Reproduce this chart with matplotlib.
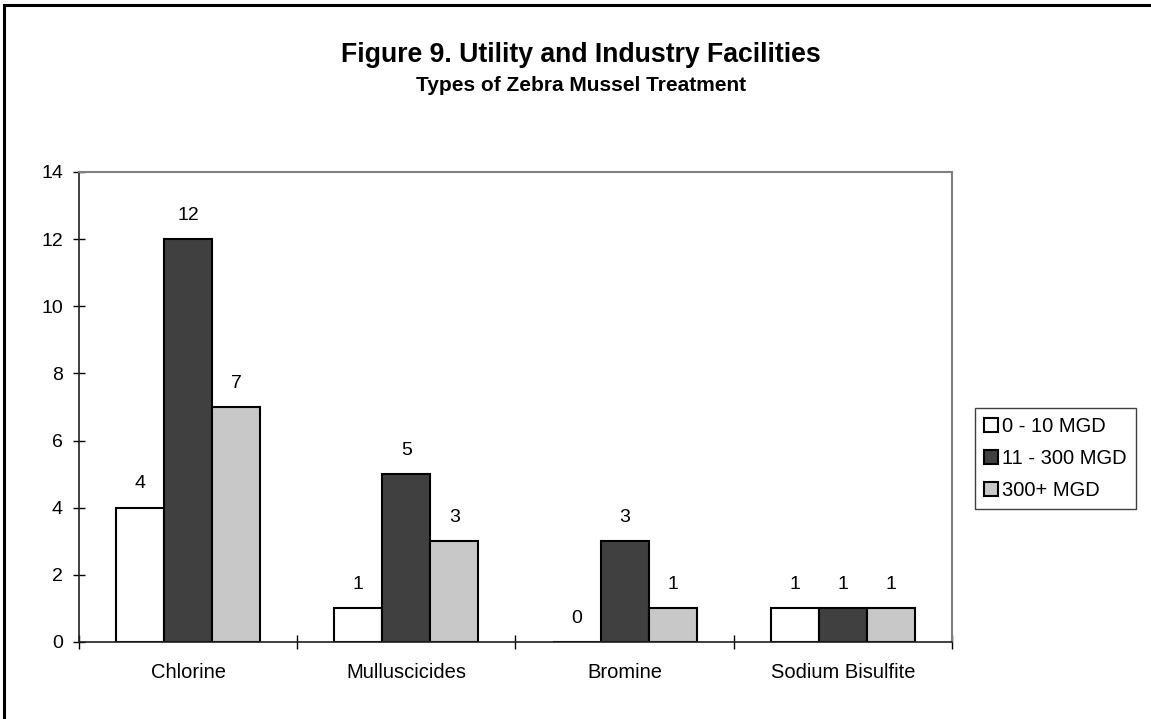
import numpy as np
import matplotlib
matplotlib.use('Agg')
import matplotlib.pyplot as plt
from matplotlib.patches import Patch, Rectangle

plt.rcParams['font.family'] = ['Liberation Sans', 'DejaVu Sans']

categories = ['Chlorine', 'Mulluscicides', 'Bromine', 'Sodium Bisulfite']
series_names = ['0 - 10 MGD', '11 - 300 MGD', '300+ MGD']
small = [4, 1, 0, 1]
medium = [12, 5, 3, 1]
large = [7, 3, 1, 1]
colors = ['white', '#404040', '#c8c8c8']

fig = plt.figure(figsize=(11.51, 7.19), dpi=100)
ax = fig.add_axes([0.0686, 0.1071, 0.827 - 0.0686, 0.7608 - 0.1071])

x = np.arange(len(categories))
w = 0.22
for i, (vals, c) in enumerate(zip([small, medium, large], colors)):
    bars = ax.bar(x + (i - 1) * w, vals, w, color=c, edgecolor='black', linewidth=1.5)
    for b, v in zip(bars, vals):
        ax.annotate(str(v), (b.get_x() + b.get_width() / 2, v), xytext=(0, 11),
                    textcoords='offset points', ha='center', va='bottom', fontsize=14)

ax.set_xlim(-0.5, len(categories) - 0.5)
ax.set_ylim(0, 14)
ax.set_yticks(range(0, 15, 2))
ax.set_xticks(x)
ax.set_xticklabels(categories)
ax.set_xticks(np.arange(-0.5, len(categories)), minor=True)
ax.tick_params(axis='x', which='major', length=0, pad=15, labelsize=14.5)
ax.tick_params(axis='x', which='minor', direction='inout', length=10, width=1)
ax.tick_params(axis='y', direction='inout', length=9, width=1, pad=7, labelsize=14)

for s in ['top', 'right']:
    ax.spines[s].set_color('#808080')
    ax.spines[s].set_linewidth(1.5)
for s in ['left', 'bottom']:
    ax.spines[s].set_color('#202020')
    ax.spines[s].set_linewidth(1.2)

handles = [Patch(facecolor=c, edgecolor='black', linewidth=1.5) for c in colors]
leg = fig.legend(handles, series_names, loc='upper left',
                 bbox_to_anchor=(975 / 1151, 1 - 408 / 719), fontsize=14.5,
                 handlelength=0.7, handleheight=0.7, handletextpad=0.2,
                 borderpad=0.45, labelspacing=0.65, borderaxespad=0,
                 fancybox=False, framealpha=1)
leg.get_frame().set_edgecolor('#404040')
leg.get_frame().set_linewidth(1)

fig.text(0.505, 1 - 62 / 719, 'Figure 9. Utility and Industry Facilities',
         ha='center', va='baseline', fontsize=19.2, fontweight='bold')
fig.text(0.505, 1 - 91 / 719, 'Types of Zebra Mussel Treatment',
         ha='center', va='baseline', fontsize=15, fontweight='bold')

fig.patches.append(Rectangle((4 / 1151, -0.1), 1.2, 1.1 - 5 / 719, transform=fig.transFigure,
                             fill=False, edgecolor='black', linewidth=2.2))

fig.savefig('out.png', dpi=100)
